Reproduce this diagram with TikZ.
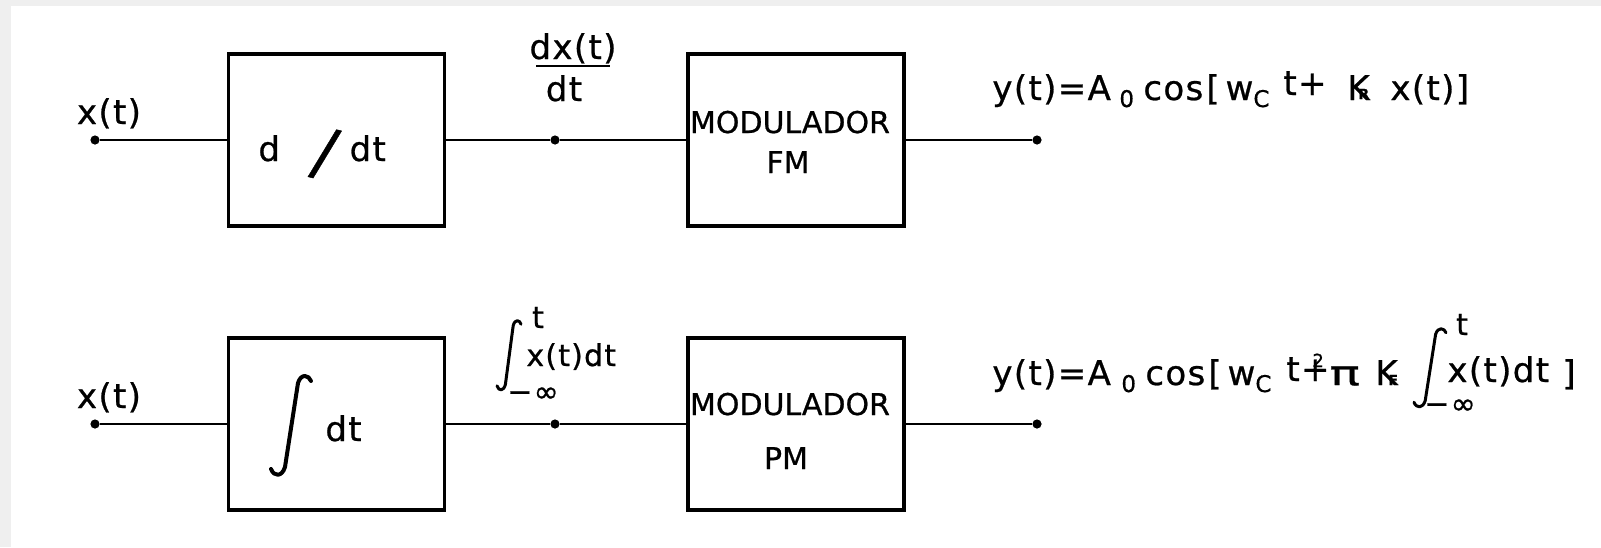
\documentclass[tikz,border=0pt]{standalone}
\usepackage{fontspec}
\setmainfont{DejaVu Sans}[FakeBold=0.7]
\newfontfamily\cadf[LetterSpace=4,FakeBold=0.7]{DejaVu Sans}
\definecolor{bggray}{RGB}{239,239,239}
\begin{document}
\begin{tikzpicture}[x=0.5pt,y=-0.5pt,
  blk/.style={draw,line width=1.6pt,rectangle,inner sep=0pt,minimum width=108pt,minimum height=86pt},
  wire/.style={line width=0.9pt},
  pin/.style={circle,fill=black,inner sep=0pt,minimum size=4.6pt},
  txt/.style={inner sep=0pt,font=\cadf\fontsize{17}{20}\selectfont},
  stxt/.style={inner sep=0pt,font=\cadf\fontsize{15}{18}\selectfont},
  sub/.style={inner sep=0pt,font=\cadf\fontsize{11.5}{13}\selectfont},
  tiny/.style={inner sep=0pt,font=\cadf\bfseries\fontsize{7}{8}\selectfont},
  modt/.style={inner sep=0pt,font=\fontsize{15}{18}\selectfont},
  intg/.pic={\draw[line cap=round,line join=round] (40,6) .. controls (38,0) and (30,-2) .. (27,8) -- (14,92) .. controls (11,102) and (3,102) .. (0,94);}
]
\useasboundingbox (0,0) rectangle (1601,547);
\fill[bggray] (0,0) rectangle (1601,547);
\fill[white] (11,6) rectangle (1601,547);

% boxes
\node[blk] (b1) at (336.5,140) {};
\node[blk] (b2) at (796,140) {};
\node[blk] (b3) at (336.5,424) {};
\node[blk] (b4) at (796,424) {};

% terminals
\node[pin] (i1) at (95,140) {};
\node[pin] (m1) at (555,140) {};
\node[pin] (o1) at (1037,140) {};
\node[pin] (i2) at (95,424) {};
\node[pin] (m2) at (555,424) {};
\node[pin] (o2) at (1037,424) {};

% wires
\draw[wire] (i1) -- (b1.west);
\draw[wire] (b1.east) -- (m1) -- (b2.west);
\draw[wire] (b2.east) -- (o1);
\draw[wire] (i2) -- (b3.west);
\draw[wire] (b3.east) -- (m2) -- (b4.west);
\draw[wire] (b4.east) -- (o2);

% input labels
\node[txt,anchor=base] (xin1) at (109,124) {x(t)};
\node[txt,anchor=base] (xin2) at (109,408) {x(t)};

% block texts
\node[txt,anchor=base west] (lab1) at (258,161) {d\hspace{14pt}\raisebox{-5pt}{\rotatebox{-14}{\fontsize{32}{32}\selectfont /}}\hspace{4pt}dt};
\pic[line width=2pt] at (271,375) {intg};
\node[txt,anchor=base west] (lab3) at (325,441) {dt};
\node[modt,anchor=base] (mod1) at (790,133) {MODULADOR};
\node[modt,anchor=base] (fm) at (788,173) {FM};
\node[modt,anchor=base] (mod2) at (790,415) {MODULADOR};
\node[modt,anchor=base] (pm) at (786,469) {PM};

% middle labels
\node[txt,anchor=base] (num) at (573,59) {dx(t)};
\draw[line width=1pt] (536,66) -- (610,66);
\node[txt,anchor=base] (den) at (564,101) {dt};

\pic[line width=1.5pt,xscale=0.6,yscale=0.7] at (497,320) {intg};
\node[stxt,anchor=base] (up1) at (538,328) {t};
\node[stxt,anchor=base west] (xi1) at (526,366) {x(t)dt};
\node[stxt,anchor=base west] (lo1) at (507,402) {−∞};

% top formula
\node[txt,anchor=base west] (f1a) at (992,100) {y(t)=A};
\node[sub,anchor=base west] (f1b) at (1119,107) {0};
\node[txt,anchor=base west] (f1c) at (1143,100) {cos\hspace{1.5pt}[\hspace{3pt}w};
\node[sub,anchor=base west] (f1d) at (1253,107) {C};
\node[txt,anchor=base west] (f1e) at (1283,95) {t+};
\node[txt,anchor=base west] (f1f) at (1347,100) {K};
\node[tiny,anchor=base west] (f1g) at (1358,99) {R};
\node[txt,anchor=base west] (f1h) at (1390,100) {x(t)]};

% bottom formula
\node[txt,anchor=base west] (f2a) at (992,385) {y(t)=A};
\node[sub,anchor=base west] (f2b) at (1121,392) {0};
\node[txt,anchor=base west] (f2c) at (1145,385) {cos\hspace{1.5pt}[\hspace{3pt}w};
\node[sub,anchor=base west] (f2d) at (1255,392) {C};
\node[txt,anchor=base west] (f2e) at (1286,381) {t+};
\node[inner sep=0pt,font=\cadf\fontsize{9}{10}\selectfont,anchor=base west] (f2f) at (1312,367) {2};
\node[txt,anchor=base west] (f2g) at (1329,385) {\scalebox{1.5}[1]{π}};
\node[txt,anchor=base west] (f2h) at (1375,385) {K};
\node[tiny,anchor=base west] (f2i) at (1388,385) {F};
\pic[line width=1.5pt,xscale=0.8,yscale=0.79] at (1414,328) {intg};
\node[stxt,anchor=base] (up2) at (1462,335) {t};
\node[txt,anchor=base west] (xi2) at (1447,382) {x(t)dt};
\node[stxt,anchor=base west] (lo2) at (1424,414) {−∞};
\node[txt,anchor=base west] (f2j) at (1562,385) {]};
\end{tikzpicture}
\end{document}
